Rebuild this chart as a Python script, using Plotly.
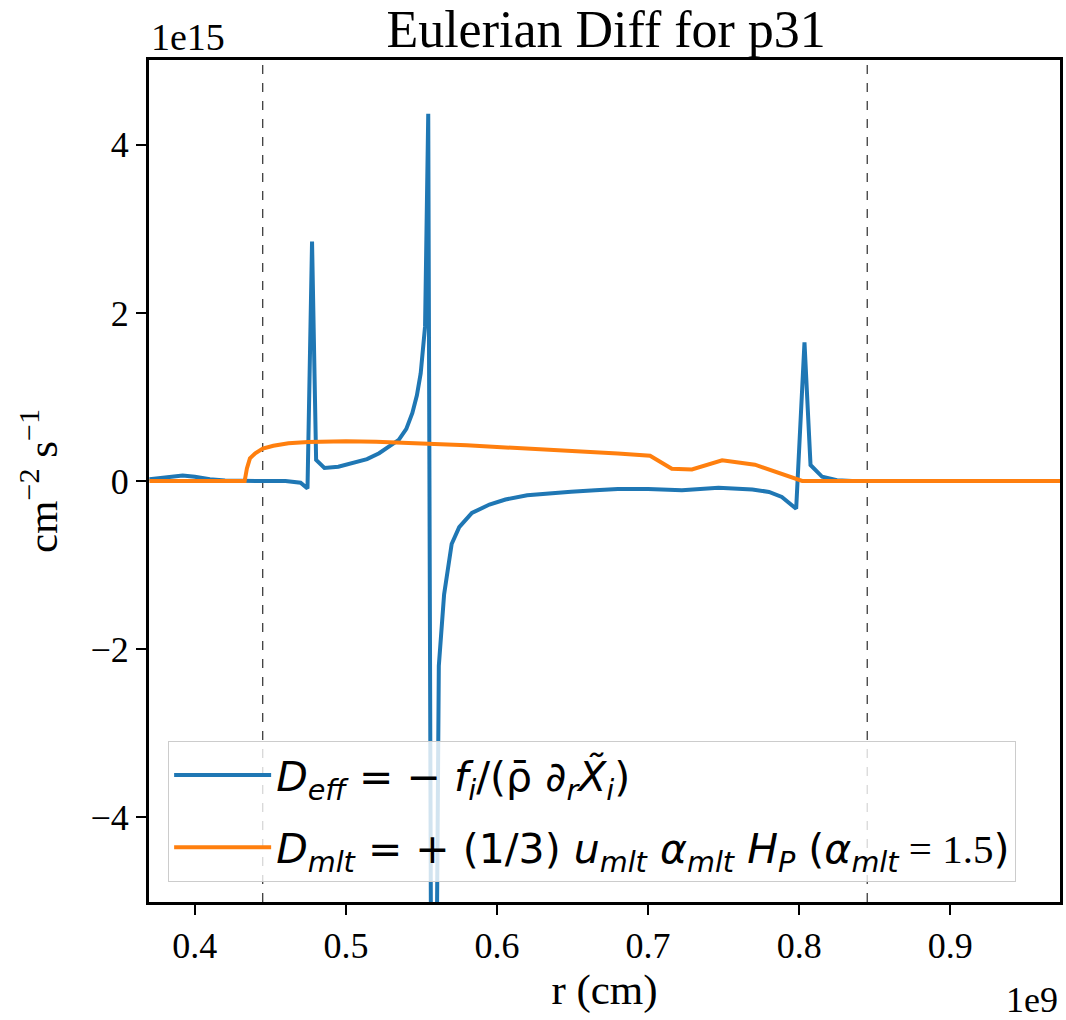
import plotly.graph_objects as go

# r in units of 1e9 cm, D in units of 1e15
r_eff = [0.370, 0.380, 0.392, 0.400, 0.410, 0.420, 0.430, 0.445, 0.460, 0.470, 0.4746,
         0.4776, 0.4803, 0.4858, 0.495, 0.504, 0.514, 0.522, 0.530, 0.535, 0.540, 0.544,
         0.547, 0.5495, 0.5524, 0.5545, 0.5575, 0.5615, 0.565, 0.570, 0.575, 0.5834,
         0.595, 0.6056, 0.620, 0.635, 0.649, 0.665, 0.680, 0.700, 0.7224, 0.7466, 0.769,
         0.780, 0.7885, 0.7980, 0.8035, 0.8075, 0.8152, 0.825, 0.835, 0.9726]
d_eff = [0.02, 0.04, 0.065, 0.05, 0.02, 0.005, 0.0, 0.0, 0.0, -0.02, -0.09,
         2.85, 0.25, 0.155, 0.17, 0.21, 0.26, 0.33, 0.42, 0.49, 0.62, 0.81,
         1.02, 1.28, 1.84, 4.37, -12.0, -2.2, -1.35, -0.75, -0.55, -0.38,
         -0.28, -0.22, -0.17, -0.145, -0.127, -0.11, -0.095, -0.095, -0.11, -0.08, -0.10,
         -0.13, -0.19, -0.33, 1.65, 0.19, 0.05, 0.01, 0.0, 0.0]

r_mlt = [0.370, 0.4330, 0.4345, 0.4365, 0.440, 0.445, 0.452, 0.462, 0.475, 0.490, 0.500,
         0.520, 0.550, 0.580, 0.600, 0.640, 0.680, 0.7013, 0.7157, 0.729, 0.749, 0.7707,
         0.7998, 0.802, 0.9726]
d_mlt = [0.0, 0.0, 0.15, 0.27, 0.33, 0.385, 0.42, 0.45, 0.465, 0.472, 0.473,
         0.468, 0.45, 0.425, 0.405, 0.37, 0.326, 0.30, 0.146, 0.138, 0.246, 0.194,
         0.02, 0.0, 0.0]

boundaries = [0.445, 0.845]
x_ticks = [0.4, 0.5, 0.6, 0.7, 0.8, 0.9]
y_ticks = [-4, -2, 0, 2, 4]

label_eff = ("<i>D</i><sub><i>eff</i></sub> = − <i>f</i><sub><i>i</i></sub>"
             "/(ρ̄ ∂<sub><i>r</i></sub><i>X̃</i><sub><i>i</i></sub>)")
label_mlt = ("<i>D</i><sub><i>mlt</i></sub> = + (1/3) <i>u</i><sub><i>mlt</i></sub> "
             "<i>α</i><sub><i>mlt</i></sub> <i>H</i><sub><i>P</i></sub> "
             "(<i>α</i><sub><i>mlt</i></sub>"
             "<span style=\"font-family:'Liberation Serif'\"> = 1.5</span>)")

fig = go.Figure()
fig.add_trace(go.Scatter(x=r_eff, y=d_eff, mode="lines", name=label_eff,
                         legendgroup="eff",
                         line=dict(color="#1f77b4", width=4)))
fig.add_trace(go.Scatter(x=r_mlt, y=d_mlt, mode="lines", name=label_mlt,
                         legendgroup="mlt",
                         line=dict(color="#ff7f0e", width=4)))

for b in boundaries:
    fig.add_shape(type="line", x0=b, x1=b, y0=0, y1=1, xref="x", yref="paper",
                  line=dict(color="black", width=1, dash="dash"), layer="below")

fig.update_layout(
    width=1066, height=1020,
    margin=dict(l=149, r=3, t=60, b=118),
    paper_bgcolor="white", plot_bgcolor="white",
    font=dict(family="Liberation Serif", size=36, color="black"),
    title=dict(text="Eulerian Diff for p31", x=0.5686, xanchor="center",
               yref="container", y=0.972, yanchor="middle", font=dict(size=52)),
    showlegend=True,
    legend=dict(x=0.021, y=0.024, xanchor="left", yanchor="bottom",
                bgcolor="rgba(255,255,255,0.8)", bordercolor="#cccccc", borderwidth=1,
                font=dict(family="DejaVu Sans", size=41), tracegroupgap=16,
                itemwidth=97),
    xaxis=dict(range=[0.3697, 0.9726], tickvals=x_ticks,
               ticktext=[f"{v:.1f}" for v in x_ticks],
               showgrid=False, zeroline=False, showline=True, mirror=True,
               linecolor="black", linewidth=3, ticks="outside", ticklen=10,
               tickwidth=1.5, tickcolor="black",
               title=dict(text="r (cm)", standoff=8)),
    yaxis=dict(range=[-5.01, 5.01], tickvals=y_ticks,
               ticktext=[("−" if v < 0 else "") + str(abs(v)) for v in y_ticks],
               showgrid=False, zeroline=False, showline=True, mirror=True,
               linecolor="black", linewidth=3, ticks="outside", ticklen=10,
               tickwidth=1.5, tickcolor="black",
               title=dict(text="cm<sup>−2</sup> s<sup>−1</sup>", standoff=20)),
)

fig.add_annotation(text="1e15", xref="paper", yref="paper", x=0, y=1,
                   xanchor="left", yanchor="bottom", yshift=0, showarrow=False,
                   font=dict(size=38))
fig.add_annotation(text="1e9", xref="paper", yref="paper", x=1, y=0,
                   xanchor="right", yanchor="top", yshift=-76, showarrow=False,
                   font=dict(size=36))

fig.write_html("out.html")
